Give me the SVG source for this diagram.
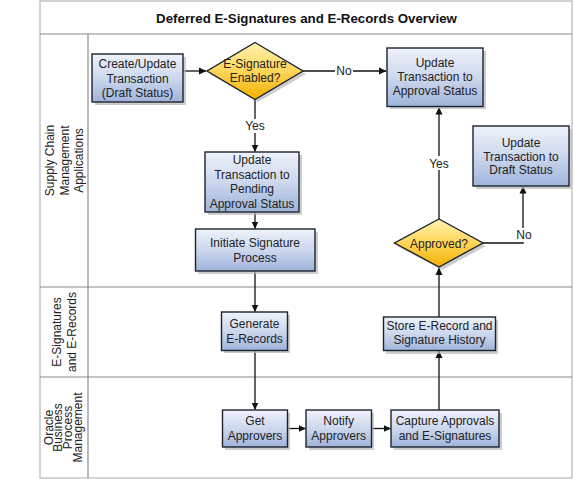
<svg xmlns="http://www.w3.org/2000/svg" width="574" height="479" viewBox="0 0 574 479">
<defs>
<linearGradient id="gBox" x1="0" y1="0" x2="0" y2="1">
<stop offset="0" stop-color="#eef2fa"/>
<stop offset="0.5" stop-color="#cdd8ee"/>
<stop offset="1" stop-color="#9fb3da"/>
</linearGradient>
<linearGradient id="gDia" x1="0" y1="0" x2="0" y2="1">
<stop offset="0" stop-color="#fff3b0"/>
<stop offset="0.5" stop-color="#ffd659"/>
<stop offset="1" stop-color="#f2b000"/>
</linearGradient>
<marker id="arr" markerWidth="8" markerHeight="8" refX="7" refY="4" orient="auto" markerUnits="userSpaceOnUse">
<path d="M0,0.5 L7.5,4 L0,7.5 Z" fill="#111"/>
</marker>
</defs>
<style>
.frame{fill:#fff;stroke:#c4c4c4;stroke-width:1.5}
.lane{stroke:#8a8a8a;stroke-width:1.2;fill:none}
.title{font-family:"Liberation Sans",Arial,sans-serif;font-size:13.3px;font-weight:bold;fill:#111;text-anchor:middle}
.lbl{font-family:"Liberation Sans",Arial,sans-serif;font-size:12px;fill:#222;text-anchor:middle}
.box{fill:url(#gBox);stroke:#1c2330;stroke-width:1.4}
.dia{fill:url(#gDia);stroke:#1c2330;stroke-width:1.4}
.shadow{fill:#b8b8b8;opacity:0.7}
.conn path{fill:none;stroke:#111;stroke-width:1.3;marker-end:url(#arr)}
.tagbg{fill:#fff}
</style>

<!-- frame and lanes -->
<rect class="frame" x="40" y="1" width="532" height="477"/>
<line class="lane" x1="40" y1="34" x2="572" y2="34"/>
<line class="lane" x1="88" y1="34" x2="88" y2="478"/>
<line class="lane" x1="40" y1="287" x2="572" y2="287"/>
<line class="lane" x1="40" y1="377" x2="572" y2="377"/>
<text class="title" x="306.5" y="22.5">Deferred E-Signatures and E-Records Overview</text>

<g id="lane-labels">
<text class="lbl" transform="translate(64.5,160.5) rotate(-90)"><tspan x="0" y="-10.7">Supply Chain</tspan><tspan x="0" y="4">Management</tspan><tspan x="0" y="18.6">Applications</tspan></text>
<text class="lbl" transform="translate(64,332) rotate(-90)"><tspan x="0" y="-3">E-Signatures</tspan><tspan x="0" y="12">and E-Records</tspan></text>
<text class="lbl" transform="translate(63,427.5) rotate(-90)"><tspan x="0" y="-10.4">Oracle</tspan><tspan x="0" y="-0.6">Business</tspan><tspan x="0" y="9.2">Process</tspan><tspan x="0" y="18.6">Management</tspan></text>
</g>

<!-- connectors -->
<g id="connectors" class="conn">
<path d="M183,71 L206,71"/>
<path d="M303,71 L386,71"/>
<path d="M255,99.5 L255,151.5"/>
<path d="M255,212 L255,228.5"/>
<path d="M255,271 L255,311.5"/>
<path d="M255,350.5 L255,409.5"/>
<path d="M287.5,428.5 L305.5,428.5"/>
<path d="M371.5,428.5 L390.5,428.5"/>
<path d="M439,410 L439,351"/>
<path d="M439,317 L439,268"/>
<path d="M439,219 L439,107.5"/>
<path d="M483,243 L523,243 L523,186.5"/>
<g id="conn-labels">
<rect class="tagbg" x="335" y="64" width="18" height="14"/>
<text class="lbl" x="344" y="75.3">No</text>
<rect class="tagbg" x="243" y="119" width="24" height="14"/>
<text class="lbl" x="255" y="130.3">Yes</text>
<rect class="tagbg" x="427" y="156" width="24" height="14"/>
<text class="lbl" x="439" y="167.6">Yes</text>
<rect class="tagbg" x="515" y="228" width="18" height="14"/>
<text class="lbl" x="524" y="239.3">No</text>
</g>
</g>

<!-- nodes -->
<g id="n-create">
<rect class="shadow" x="95" y="57" width="91" height="48"/>
<rect class="box" x="92" y="54" width="91" height="48"/>
<text class="lbl" x="137.5"><tspan x="137.5" y="68.3">Create/Update</tspan><tspan x="137.5" y="82.7">Transaction</tspan><tspan x="137.5" y="97">(Draft Status)</tspan></text>
</g>
<g id="n-esig">
<polygon class="shadow" points="258,45 306,74 258,102 210,74"/>
<polygon class="dia" points="255,42.5 303,71 255,99.5 207,71"/>
<text class="lbl"><tspan x="255" y="68">E-Signature</tspan><tspan x="255" y="82.3">Enabled?</tspan></text>
</g>
<g id="n-approval">
<rect class="shadow" x="390" y="51" width="96" height="58"/>
<rect class="box" x="387" y="48" width="96" height="58.5"/>
<text class="lbl"><tspan x="435" y="66.5">Update</tspan><tspan x="435" y="80.8">Transaction to</tspan><tspan x="435" y="95">Approval Status</tspan></text>
</g>
<g id="n-pending">
<rect class="shadow" x="208" y="155" width="94" height="60"/>
<rect class="box" x="205" y="152" width="94" height="60"/>
<text class="lbl"><tspan x="252" y="164.3">Update</tspan><tspan x="252" y="179">Transaction to</tspan><tspan x="252" y="193.3">Pending</tspan><tspan x="252" y="207.6">Approval Status</tspan></text>
</g>
<g id="n-initiate">
<rect class="shadow" x="198" y="232" width="120" height="42"/>
<rect class="box" x="195.5" y="229" width="119.5" height="42"/>
<text class="lbl"><tspan x="255" y="247">Initiate Signature</tspan><tspan x="255" y="261.6">Process</tspan></text>
</g>
<g id="n-generate">
<rect class="shadow" x="224" y="315" width="66" height="38"/>
<rect class="box" x="221.5" y="312" width="66" height="38.5"/>
<text class="lbl"><tspan x="254.5" y="328">Generate</tspan><tspan x="254.5" y="343">E-Records</tspan></text>
</g>
<g id="n-get">
<rect class="shadow" x="225" y="413" width="65" height="37"/>
<rect class="box" x="222.5" y="410" width="65" height="37"/>
<text class="lbl"><tspan x="255" y="425.3">Get</tspan><tspan x="255" y="440">Approvers</tspan></text>
</g>
<g id="n-notify">
<rect class="shadow" x="309" y="413" width="65" height="37"/>
<rect class="box" x="306" y="410" width="65.5" height="37"/>
<text class="lbl"><tspan x="338.7" y="425.3">Notify</tspan><tspan x="338.7" y="440">Approvers</tspan></text>
</g>
<g id="n-capture">
<rect class="shadow" x="394" y="413" width="108" height="37"/>
<rect class="box" x="391" y="410" width="108" height="37"/>
<text class="lbl"><tspan x="445" y="425.3">Capture Approvals</tspan><tspan x="445" y="440">and E-Signatures</tspan></text>
</g>
<g id="n-store">
<rect class="shadow" x="386" y="320" width="112" height="34"/>
<rect class="box" x="383.5" y="317" width="112" height="33.5"/>
<text class="lbl"><tspan x="439.5" y="330">Store E-Record and</tspan><tspan x="439.5" y="344.3">Signature History</tspan></text>
</g>
<g id="n-approved">
<polygon class="shadow" points="442,222 486,246 442,270 397,246"/>
<polygon class="dia" points="439,219 483,243 439,267 394.5,243"/>
<text class="lbl" x="439" y="248.3">Approved?</text>
</g>
<g id="n-draft">
<rect class="shadow" x="476" y="129" width="96" height="60"/>
<rect class="box" x="473" y="126" width="96" height="60"/>
<text class="lbl"><tspan x="521" y="146.6">Update</tspan><tspan x="521" y="160.5">Transaction to</tspan><tspan x="521" y="174">Draft Status</tspan></text>
</g>
</svg>
